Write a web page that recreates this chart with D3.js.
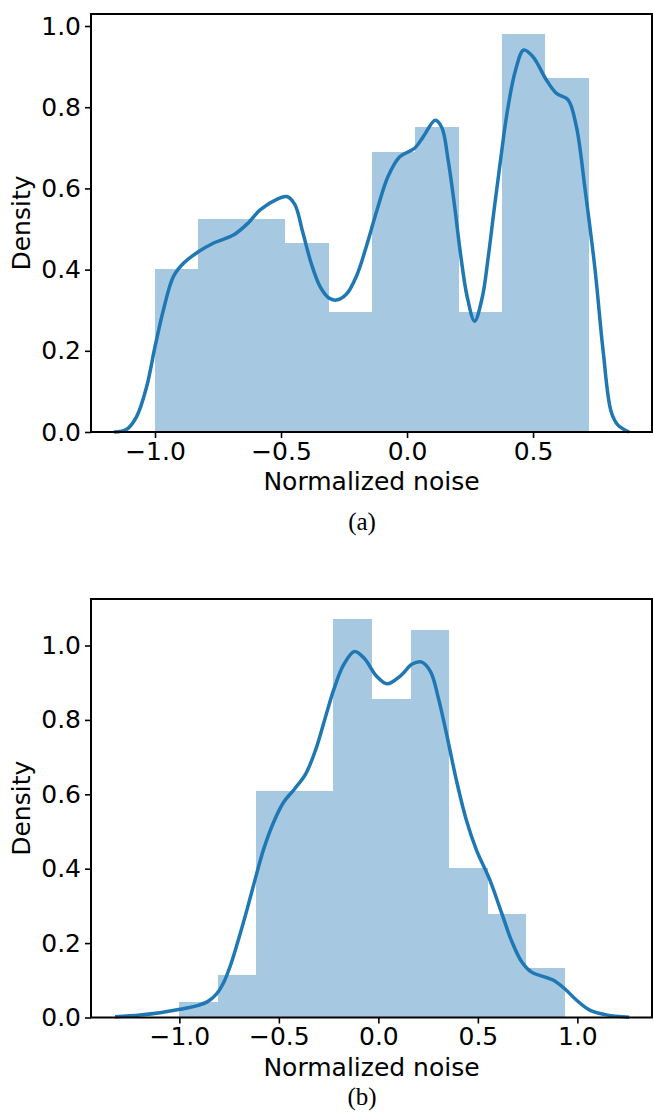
<!DOCTYPE html>
<html>
<head>
<meta charset="utf-8">
<script src="https://cdn.jsdelivr.net/npm/d3@7"></script>
<style>
  body { margin: 0; background: #fff; }
  text { font-family: "DejaVu Sans", sans-serif; fill: #000; }
</style>
</head>
<body>
<svg id="chart"></svg>
<script>
// Panel (a): histogram bin edges, bar heights, KDE curve
const edgesA = [-1.0, -0.828, -0.656, -0.483, -0.311, -0.139, 0.033, 0.205, 0.377, 0.549, 0.722];
const heightsA = [0.401, 0.524, 0.524, 0.466, 0.296, 0.690, 0.751, 0.296, 0.980, 0.872];
const kdeA = [
    [-1.163, 0.0], [-1.112, 0.007], [-1.073, 0.038], [-1.033, 0.112], [-1.0, 0.21],
    [-0.967, 0.30], [-0.927, 0.383], [-0.888, 0.415], [-0.828, 0.444], [-0.769, 0.465],
    [-0.689, 0.485], [-0.630, 0.515], [-0.583, 0.547], [-0.517, 0.573], [-0.477, 0.580],
    [-0.445, 0.560], [-0.415, 0.495], [-0.380, 0.415], [-0.345, 0.358], [-0.310, 0.330],
    [-0.281, 0.325], [-0.240, 0.340], [-0.200, 0.385], [-0.160, 0.460], [-0.120, 0.545],
    [-0.075, 0.630], [-0.029, 0.678], [0.030, 0.699], [0.064, 0.727], [0.112, 0.768],
    [0.138, 0.750], [0.163, 0.670], [0.189, 0.555], [0.212, 0.440], [0.238, 0.335],
    [0.268, 0.273], [0.298, 0.330], [0.322, 0.430], [0.345, 0.545], [0.370, 0.665],
    [0.398, 0.790], [0.430, 0.890], [0.463, 0.941], [0.500, 0.924], [0.553, 0.867],
    [0.593, 0.834], [0.639, 0.818], [0.672, 0.752], [0.706, 0.600], [0.746, 0.400],
    [0.778, 0.200], [0.810, 0.050], [0.837, 0.017], [0.881, 0.0]
];
const xTicksA = [-1.0, -0.5, 0.0, 0.5];

// Panel (b)
const edgesB = [-1.0, -0.806, -0.613, -0.419, -0.226, -0.032, 0.162, 0.355, 0.549, 0.743, 0.936];
const heightsB = [0.041, 0.114, 0.609, 0.609, 1.071, 0.856, 1.042, 0.401, 0.277, 0.134];
const kdeB = [
    [-1.323, 0.002], [-1.197, 0.007], [-1.097, 0.013], [-0.996, 0.022], [-0.910, 0.032],
    [-0.860, 0.042], [-0.815, 0.062], [-0.779, 0.092], [-0.740, 0.145], [-0.700, 0.215],
    [-0.660, 0.290], [-0.620, 0.370], [-0.578, 0.450], [-0.528, 0.523], [-0.477, 0.578],
    [-0.420, 0.615], [-0.365, 0.655], [-0.315, 0.720], [-0.270, 0.800], [-0.225, 0.880],
    [-0.175, 0.948], [-0.120, 0.984], [-0.070, 0.965], [-0.010, 0.918], [0.045, 0.897],
    [0.110, 0.918], [0.170, 0.950], [0.215, 0.956], [0.262, 0.930], [0.300, 0.862],
    [0.342, 0.764], [0.392, 0.638], [0.442, 0.531], [0.493, 0.450], [0.560, 0.370],
    [0.620, 0.280], [0.670, 0.205], [0.720, 0.150], [0.770, 0.122], [0.830, 0.110],
    [0.880, 0.100], [0.935, 0.078], [0.995, 0.047], [1.062, 0.020], [1.146, 0.007],
    [1.260, 0.001]
];
const xTicksB = [-1.0, -0.5, 0.0, 0.5, 1.0];

const yTicks = [0.0, 0.2, 0.4, 0.6, 0.8, 1.0];

const svg = d3.select('#chart')
    .attr('width', 653)
    .attr('height', 1116);

function drawPanel(opts) {
    const { edges, heights, kde, xTicks, xDomain, yDomain, box, caption, captionY } = opts;

    const xScale = d3.scaleLinear().domain(xDomain).range([box.left, box.right]);
    const yScale = d3.scaleLinear().domain(yDomain).range([box.bottom, box.top]);

    const g = svg.append('g');

    // histogram bars (crisp edges so neighbouring bars don't show seams)
    g.selectAll('rect.bar')
        .data(heights)
        .enter()
        .append('rect')
        .attr('class', 'bar')
        .attr('x', (d, i) => xScale(edges[i]))
        .attr('width', (d, i) => xScale(edges[i + 1]) - xScale(edges[i]))
        .attr('y', d => yScale(d))
        .attr('height', d => yScale(0) - yScale(d))
        .attr('fill', '#a6c9e1')
        .attr('shape-rendering', 'crispEdges');

    // KDE line
    const line = d3.line()
        .x(d => xScale(d[0]))
        .y(d => yScale(d[1]))
        .curve(d3.curveCatmullRom.alpha(0.5));

    g.append('path')
        .datum(kde)
        .attr('d', line)
        .attr('fill', 'none')
        .attr('stroke', '#1f77b4')
        .attr('stroke-width', 3.5)
        .attr('stroke-linejoin', 'round');

    // axes
    const xAxis = d3.axisBottom(xScale)
        .tickValues(xTicks)
        .tickFormat(d3.format('.1f'))
        .tickSize(6)
        .tickPadding(4);
    const yAxis = d3.axisLeft(yScale)
        .tickValues(yTicks)
        .tickFormat(d3.format('.1f'))
        .tickSize(6)
        .tickPadding(4);

    const gx = g.append('g')
        .attr('transform', `translate(0, ${box.bottom})`)
        .call(xAxis);
    const gy = g.append('g')
        .attr('transform', `translate(${box.left}, 0)`)
        .call(yAxis);

    [gx, gy].forEach(a => {
        a.select('.domain').remove();
        a.selectAll('line').attr('stroke', '#000').attr('stroke-width', 1.6);
        a.selectAll('text')
            .attr('font-size', 25)
            .attr('font-family', '"DejaVu Sans", sans-serif')
            .attr('fill', '#000');
    });

    // frame
    g.append('rect')
        .attr('x', box.left)
        .attr('y', box.top)
        .attr('width', box.right - box.left)
        .attr('height', box.bottom - box.top)
        .attr('fill', 'none')
        .attr('stroke', '#000')
        .attr('stroke-width', 2);

    // labels
    g.append('text')
        .attr('x', (box.left + box.right) / 2)
        .attr('y', box.bottom + 58)
        .attr('text-anchor', 'middle')
        .attr('font-size', 25)
        .text('Normalized noise');

    g.append('text')
        .attr('transform', `translate(30, ${(box.top + box.bottom) / 2}) rotate(-90)`)
        .attr('text-anchor', 'middle')
        .attr('font-size', 25)
        .text('Density');

    g.append('text')
        .attr('x', 362)
        .attr('y', captionY)
        .attr('text-anchor', 'middle')
        .attr('font-size', 25)
        .style('font-family', '"Liberation Serif", "DejaVu Serif", serif')
        .text(caption);
}

drawPanel({
    edges: edgesA, heights: heightsA, kde: kdeA, xTicks: xTicksA,
    xDomain: [-1.254, 0.972], yDomain: [0, 1.0296],
    box: { left: 91, right: 652, top: 14, bottom: 432 },
    caption: '(a)', captionY: 530
});

drawPanel({
    edges: edgesB, heights: heightsB, kde: kdeB, xTicks: xTicksB,
    xDomain: [-1.444, 1.375], yDomain: [0, 1.125],
    box: { left: 91, right: 652, top: 599, bottom: 1017.5 },
    caption: '(b)', captionY: 1105
});
</script>
</body>
</html>
